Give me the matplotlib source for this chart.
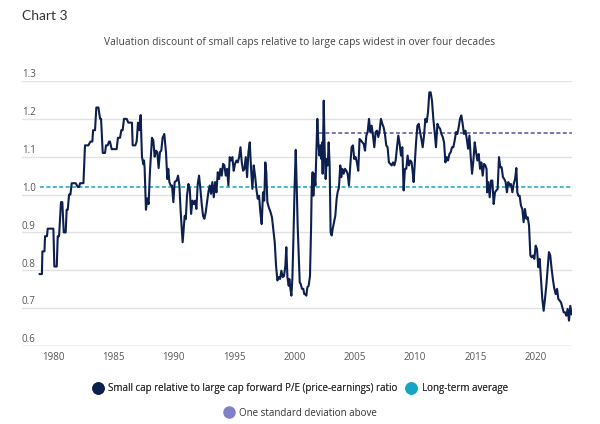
import matplotlib
matplotlib.use("Agg")
import matplotlib.pyplot as plt
from matplotlib.lines import Line2D

plt.rcParams['font.family'] = ['Open Sans', 'DejaVu Sans']

# small cap / large cap forward P/E (decimal years)
dates_79_86 = [1978.90, 1979.08, 1979.12, 1979.29, 1979.34, 1979.50, 1979.56, 1980.03, 1980.11, 1980.31,
               1980.39, 1980.50, 1980.66, 1980.77, 1980.89, 1981.05, 1981.13, 1981.22, 1981.33, 1981.44,
               1981.55, 1981.88, 1982.05, 1982.16, 1982.24, 1982.52, 1982.65, 1982.93, 1983.10, 1983.26,
               1983.32, 1983.48, 1983.59, 1983.76, 1983.90, 1983.98, 1984.12, 1984.31, 1984.39, 1984.53,
               1984.64, 1984.72, 1984.86, 1985.27, 1985.38, 1985.55, 1985.66, 1985.77, 1985.88, 1986.10,
               1986.24, 1986.54, 1986.60, 1986.82, 1986.93]
ratio_79_86 = [0.79, 0.79, 0.85, 0.85, 0.89, 0.89, 0.91, 0.91, 0.81, 0.81,
               0.89, 0.89, 0.98, 0.98, 0.90, 0.90, 0.96, 0.96, 1.00, 1.00,
               1.03, 1.03, 1.02, 1.02, 1.03, 1.03, 1.13, 1.13, 1.14, 1.14,
               1.17, 1.17, 1.23, 1.23, 1.20, 1.20, 1.11, 1.11, 1.13, 1.13,
               1.14, 1.14, 1.12, 1.12, 1.15, 1.15, 1.17, 1.17, 1.20, 1.20,
               1.19, 1.19, 1.13, 1.13, 1.14]

dates_87_90 = [1987.04, 1987.15, 1987.26, 1987.37, 1987.48, 1987.54, 1987.59, 1987.70, 1987.81, 1987.92,
               1988.03, 1988.20, 1988.31, 1988.42, 1988.53, 1988.64, 1988.75, 1988.86, 1988.97, 1989.08,
               1989.22, 1989.36, 1989.47, 1989.55, 1989.64, 1989.75, 1989.86, 1989.97, 1990.08, 1990.24,
               1990.36, 1990.47, 1990.58, 1990.74, 1990.91]
ratio_87_90 = [1.19, 1.17, 1.21, 1.10, 1.08, 1.09, 1.07, 0.96, 0.99, 0.975,
               1.06, 1.15, 1.143, 1.10, 1.116, 1.112, 1.07, 1.112, 1.116, 1.15,
               1.16, 1.112, 1.041, 1.068, 1.033, 1.024, 1.024, 0.98, 1.033, 1.037,
               1.05, 1.024, 0.953, 0.874, 0.944]

dates_91_97 = [1991.00, 1991.10, 1991.22, 1991.33, 1991.44, 1991.55, 1991.66, 1991.77, 1991.88, 1991.99,
               1992.10, 1992.21, 1992.32, 1992.43, 1992.54, 1992.65, 1992.76, 1992.87, 1992.98, 1993.09,
               1993.20, 1993.32, 1993.43, 1993.54, 1993.65, 1993.76, 1993.87, 1993.98, 1994.09, 1994.20,
               1994.31, 1994.42, 1994.53, 1994.64, 1994.75, 1994.86, 1994.97, 1995.08, 1995.20, 1995.31,
               1995.42, 1995.53, 1995.64, 1995.75, 1995.86, 1995.97, 1996.08, 1996.19, 1996.30, 1996.41,
               1996.52, 1996.63, 1996.74, 1996.85, 1996.96, 1997.07]
ratio_91_97 = [0.935, 0.997, 1.028, 1.015, 0.949, 0.984, 0.975, 0.984, 0.962, 1.028,
               1.050, 1.015, 0.975, 0.944, 0.936, 0.953, 0.980, 1.006, 1.024, 1.002,
               1.033, 0.993, 1.033, 1.006, 1.059, 1.041, 1.068, 1.050, 1.081, 1.077,
               1.050, 1.068, 1.024, 1.099, 1.090, 1.099, 1.063, 1.081, 1.090, 1.085,
               1.099, 1.125, 1.085, 1.063, 1.068, 1.099, 1.046, 1.112, 1.138, 1.068,
               1.015, 1.077, 1.050, 1.015, 0.989, 0.997]

dates_97_03 = [1997.18, 1997.29, 1997.40, 1997.50, 1997.59, 1997.67, 1997.76, 1997.87, 1998.03, 1998.14,
               1998.25, 1998.37, 1998.48, 1998.59, 1998.70, 1998.81, 1998.92, 1999.03, 1999.14, 1999.25,
               1999.33, 1999.42, 1999.53, 1999.58, 1999.69, 1999.75, 1999.83, 1999.91, 2000.02, 2000.11,
               2000.19, 2000.27, 2000.35, 2000.44, 2000.52, 2000.63, 2000.74, 2000.82, 2000.91, 2000.99,
               2001.07, 2001.18, 2001.29, 2001.38, 2001.43, 2001.51, 2001.57, 2001.65, 2001.74, 2001.79,
               2001.90, 2001.98, 2002.07, 2002.15, 2002.23, 2002.29, 2002.34, 2002.43, 2002.51, 2002.59,
               2002.67, 2002.76, 2002.84, 2002.92, 2003.00, 2003.09, 2003.17, 2003.28, 2003.39, 2003.50]
ratio_97_03 = [0.953, 0.922, 1.006, 0.984, 1.085, 1.059, 0.980, 0.967, 0.953, 0.940,
               0.909, 0.874, 0.812, 0.773, 0.782, 0.777, 0.799, 0.782, 0.785, 0.812,
               0.861, 0.782, 0.759, 0.777, 0.746, 0.733, 0.777, 0.874, 1.024, 1.118,
               1.024, 0.918, 0.848, 0.768, 0.764, 0.751, 0.751, 0.737, 0.737, 0.733,
               0.755, 0.759, 0.785, 0.909, 1.015, 1.059, 0.997, 1.055, 1.024, 1.077,
               1.200, 1.138, 1.103, 1.130, 1.094, 1.138, 1.055, 1.248, 1.112, 1.041,
               1.094, 1.077, 1.138, 1.077, 0.900, 0.892, 0.909, 0.927, 0.944, 0.989]

dates_03_09 = [2003.58, 2003.69, 2003.80, 2003.88, 2003.97, 2004.08, 2004.19, 2004.30, 2004.41, 2004.52,
               2004.63, 2004.74, 2004.85, 2004.96, 2005.07, 2005.18, 2005.29, 2005.40, 2005.51, 2005.63,
               2005.74, 2005.85, 2005.96, 2006.07, 2006.18, 2006.29, 2006.40, 2006.51, 2006.62, 2006.73,
               2006.84, 2006.95, 2007.06, 2007.17, 2007.28, 2007.39, 2007.50, 2007.61, 2007.72, 2007.83,
               2007.95, 2008.06, 2008.17, 2008.28, 2008.39, 2008.50, 2008.61, 2008.72, 2008.83, 2008.94,
               2009.05, 2009.16, 2009.27, 2009.38, 2009.49]
ratio_03_09 = [1.006, 1.019, 1.077, 1.046, 1.068, 1.055, 1.068, 1.063, 1.055, 1.024,
               1.077, 1.125, 1.130, 1.094, 1.099, 1.085, 1.063, 1.147, 1.143, 1.138,
               1.134, 1.116, 1.156, 1.165, 1.200, 1.165, 1.182, 1.156, 1.125, 1.165,
               1.169, 1.152, 1.169, 1.200, 1.187, 1.178, 1.160, 1.130, 1.125, 1.085,
               1.081, 1.077, 1.085, 1.077, 1.090, 1.125, 1.156, 1.134, 1.103, 1.125,
               1.011, 1.068, 1.068, 1.103, 1.077]

dates_09_15 = [2009.60, 2009.71, 2009.80, 2009.88, 2009.97, 2010.08, 2010.19, 2010.30, 2010.41, 2010.52,
               2010.63, 2010.74, 2010.85, 2010.96, 2011.07, 2011.18, 2011.29, 2011.40, 2011.51, 2011.62,
               2011.73, 2011.85, 2011.96, 2012.07, 2012.18, 2012.29, 2012.40, 2012.51, 2012.62, 2012.73,
               2012.84, 2012.95, 2013.06, 2013.17, 2013.28, 2013.39, 2013.50, 2013.61, 2013.72, 2013.83,
               2013.94, 2014.05, 2014.17, 2014.28, 2014.39, 2014.50, 2014.61, 2014.72, 2014.83, 2014.94,
               2015.05, 2015.16, 2015.27, 2015.38, 2015.49, 2015.60, 2015.71]
ratio_09_15 = [1.090, 1.085, 1.059, 1.033, 1.081, 1.138, 1.182, 1.187, 1.165, 1.147,
               1.125, 1.156, 1.200, 1.191, 1.218, 1.270, 1.270, 1.248, 1.200, 1.165,
               1.125, 1.187, 1.178, 1.174, 1.160, 1.152, 1.138, 1.085, 1.099, 1.090,
               1.107, 1.112, 1.125, 1.125, 1.143, 1.165, 1.160, 1.178, 1.200, 1.209,
               1.187, 1.160, 1.169, 1.147, 1.121, 1.156, 1.099, 1.055, 1.090, 1.138,
               1.112, 1.090, 1.107, 1.068, 1.085, 1.050, 1.081]

dates_15_22 = [2015.82, 2015.92, 2015.97, 2016.07, 2016.18, 2016.29, 2016.40, 2016.51, 2016.62, 2016.73,
               2016.84, 2016.95, 2017.06, 2017.17, 2017.28, 2017.39, 2017.50, 2017.61, 2017.72, 2017.83,
               2017.94, 2018.06, 2018.17, 2018.28, 2018.39, 2018.47, 2018.55, 2018.66, 2018.77, 2018.88,
               2018.99, 2019.10, 2019.22, 2019.33, 2019.44, 2019.55, 2019.66, 2019.77, 2019.88, 2019.99,
               2020.10, 2020.21, 2020.32, 2020.43, 2020.54, 2020.65, 2020.76, 2020.87, 2020.98, 2021.09,
               2021.20, 2021.31, 2021.43, 2021.54, 2021.65, 2021.76, 2021.87, 2021.98, 2022.09, 2022.20,
               2022.31, 2022.42, 2022.53, 2022.64, 2022.75, 2022.86, 2022.97]
ratio_15_22 = [1.077, 1.068, 1.006, 1.033, 0.993, 1.037, 1.037, 0.975, 1.006, 1.011,
               1.015, 1.099, 1.072, 1.072, 1.046, 1.041, 1.033, 1.006, 1.033, 1.024,
               1.028, 1.006, 1.028, 1.041, 1.070, 1.006, 0.997, 0.997, 0.971, 0.962,
               0.927, 0.962, 0.936, 0.940, 0.918, 0.839, 0.834, 0.839, 0.830, 0.865,
               0.856, 0.808, 0.830, 0.777, 0.724, 0.693, 0.724, 0.759, 0.804, 0.848,
               0.839, 0.804, 0.773, 0.751, 0.737, 0.751, 0.724, 0.720, 0.715, 0.702,
               0.689, 0.689, 0.680, 0.698, 0.667, 0.706, 0.684]

long_term_avg = 1.02
one_std_above = 1.163
std_line_start = 2002.0

y_ticks = [0.6, 0.7, 0.8, 0.9, 1.0, 1.1, 1.2, 1.3]
x_ticks = [1980, 1985, 1990, 1995, 2000, 2005, 2010, 2015, 2020]

dates = dates_79_86 + dates_87_90 + dates_91_97 + dates_97_03 + dates_03_09 + dates_09_15 + dates_15_22
ratio = ratio_79_86 + ratio_87_90 + ratio_91_97 + ratio_97_03 + ratio_03_09 + ratio_09_15 + ratio_15_22

navy = '#0c1f4e'
teal = '#13a6c2'
purple = '#55509f'
purple_dot = '#7f7fcc'

fig = plt.figure(figsize=(6, 4.24), dpi=100)
ax = fig.add_axes([22 / 600, 1 - 346 / 424, 550 / 600, 265 / 424])

ax.plot(dates, ratio, color=navy, lw=1.5, zorder=3)
ax.plot([dates[0], 2023.0], [long_term_avg, long_term_avg], color=teal, lw=1.1,
        linestyle=(0, (2.6, 1.6)), zorder=2)
ax.plot([std_line_start, 2023.0], [one_std_above, one_std_above], color=purple, lw=1.1,
        linestyle=(0, (2.6, 1.6)), zorder=2)

ax.set_xlim(1977.43, 2023.0)
ax.set_ylim(0.6, 1.3)
for s in ax.spines.values():
    s.set_visible(False)

ax.set_yticks(y_ticks)
ax.set_yticklabels([])
ax.yaxis.grid(True, color='#e2e2e2', lw=1)
ax.tick_params(axis='y', length=0)
ax.axhline(0.6, color='#cfcfcf', lw=1, zorder=1)
for v in y_ticks:
    ax.annotate(f'{v:.1f}', xy=(0, v), xycoords=('axes fraction', 'data'),
                xytext=(0, 0.5), textcoords='offset points',
                ha='left', va='bottom', fontsize=7, color='#555555')

ax.set_xticks(x_ticks)
ax.set_xticklabels([str(x) for x in x_ticks])
ax.tick_params(axis='x', length=0, pad=4, labelsize=7, labelcolor='#555555')

fig.text(22 / 600, 1 - 16 / 424, 'Chart 3', fontsize=10, color='#333333',
         family=['Lato', 'DejaVu Sans'], va='center', ha='left')
fig.text(0.5, 1 - 43 / 424,
         'Valuation discount of small caps relative to large caps widest in over four decades',
         fontsize=7.4, color='#444444', ha='center', va='center')

h1 = Line2D([], [], marker='o', linestyle='', color=navy, markersize=8,
            label='Small cap relative to large cap forward P/E (price-earnings) ratio')
h2 = Line2D([], [], marker='o', linestyle='', color=teal, markersize=8, label='Long-term average')
h3 = Line2D([], [], marker='o', linestyle='', color=purple_dot, markersize=8,
            label='One standard deviation above')

leg1 = fig.legend(handles=[h1, h2], loc='center', bbox_to_anchor=(0.5, 1 - 389 / 424), ncol=2,
                  frameon=False, fontsize=7, handletextpad=0.5, columnspacing=0.8,
                  handlelength=1.2, labelcolor='#333333')
fig.legend(handles=[h3], loc='center', bbox_to_anchor=(0.5, 1 - 413 / 424),
           frameon=False, fontsize=7, handletextpad=0.5, handlelength=1.2,
           labelcolor='#333333')
fig.add_artist(leg1)

fig.savefig('out.png', dpi=100)
